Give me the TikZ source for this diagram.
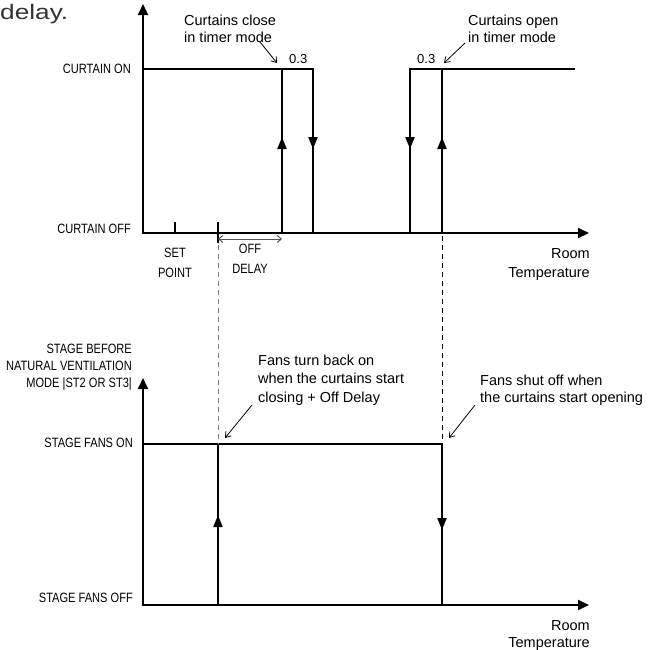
\documentclass[tikz,border=0pt]{standalone}
\usepackage{fontspec}
\setmainfont{Liberation Sans}
\newfontfamily\capsf[FakeStretch=0.82]{Liberation Sans}
\newfontfamily\bigf[FakeStretch=1.25]{Liberation Sans}
\usetikzlibrary{arrows.meta}
\definecolor{guidegray}{HTML}{808080}
\definecolor{delaygray}{HTML}{555555}
\definecolor{headgray}{HTML}{333333}
\tikzset{
 lab/.style={inner sep=0pt, font=\fontsize{14.5}{18}\selectfont},
 num/.style={inner sep=0pt, font=\fontsize{13}{16}\selectfont},
 caps/.style={inner sep=0pt, font=\capsf\fontsize{13.5}{16}\selectfont},
 axes/.style={line width=2pt, {Triangle[length=11pt,width=10pt]}-{Triangle[length=11pt,width=10pt]}},
 sig/.style={line width=2pt},
 midtip/.style={line width=2pt, -{Triangle[length=12pt,width=9pt]}},
 tick/.style={line width=2pt},
 note/.style={line width=0.8pt, -{Straight Barb[length=5pt,width=7pt]}},
 guide/.style={line width=1pt, dash pattern=on 5pt off 4pt},
}
\begin{document}
\begin{tikzpicture}[x=1pt,y=-1pt]
\useasboundingbox (0,0) rectangle (651,649);

% ---------- top chart ----------
\coordinate (y1) at (143,4);
\coordinate (o1) at (143,233);
\coordinate (x1) at (589,233);
\coordinate (on1) at (143,69);
\coordinate (a) at (282,233);  \coordinate (aT) at (282,69);  \coordinate (aM) at (282,137);
\coordinate (b) at (313,69);   \coordinate (bB) at (313,233); \coordinate (bM) at (313,149);
\coordinate (c) at (410,69);   \coordinate (cB) at (410,233); \coordinate (cM) at (410,149);
\coordinate (d) at (442,233);  \coordinate (dT) at (442,69);  \coordinate (dM) at (442,137);
\coordinate (e) at (575,69);
\coordinate (sp) at (175,222); \coordinate (spB) at (175,233);
\coordinate (od) at (218,222); \coordinate (odB) at (218,243);
\coordinate (odL) at (218,239); \coordinate (odR) at (282,239);
\coordinate (gl1) at (218,245); \coordinate (gr1) at (442,236);

\draw[axes] (y1) -- (o1) -- (x1);
\draw[sig] (on1) -- (b) -- (bB);
\draw[midtip] (b) -- (bM);
\draw[sig] (a) -- (aT);
\draw[midtip] (a) -- (aM);
\draw[sig] (cB) -- (c) -- (e);
\draw[midtip] (c) -- (cM);
\draw[sig] (d) -- (dT);
\draw[midtip] (d) -- (dM);
\draw[tick] (sp) -- (spB);
\draw[tick] (od) -- (odB);
\draw[delaygray, line width=1pt, {Straight Barb[length=4pt,width=7pt]}-{Straight Barb[length=4pt,width=7pt]}] (odL) -- (odR);

% ---------- bottom chart ----------
\coordinate (y2) at (143,378);
\coordinate (o2) at (143,605);
\coordinate (x2) at (589,605);
\coordinate (on2) at (143,444);
\coordinate (f) at (218,605);  \coordinate (fT) at (218,444); \coordinate (fM) at (218,515);
\coordinate (g) at (442,444);  \coordinate (gB) at (442,605); \coordinate (gM) at (442,530);

\draw[axes] (y2) -- (o2) -- (x2);
\draw[sig] (on2) -- (g) -- (gB);
\draw[midtip] (g) -- (gM);
\draw[sig] (f) -- (fT);
\draw[midtip] (f) -- (fM);

% guides
\draw[guide, guidegray] (gl1) -- (fT);
\draw[guide, black] (gr1) -- (g);

% ---------- labels ----------
\node[inner sep=0pt, anchor=base west, text=headgray, font=\bigf\fontsize{21}{24}\selectfont] (hd) at (0,19) {delay.};

\node[caps, anchor=base east] (lcon) at (131,73) {CURTAIN ON};
\node[caps, anchor=base east] (lcoff) at (131,233) {CURTAIN OFF};
\node[caps, anchor=base] (lset) at (175,257) {SET};
\node[caps, anchor=base] (lpoint) at (175,277) {POINT};
\node[caps, anchor=base] (loff) at (250,253) {OFF};
\node[caps, anchor=base] (ldelay) at (250,273) {DELAY};
\node[caps, anchor=base east] (ls1) at (132,353) {STAGE BEFORE};
\node[caps, anchor=base east] (ls2) at (132,370) {NATURAL VENTILATION};
\node[caps, anchor=base east] (ls3) at (132,387) {MODE |ST2 OR ST3|};
\node[caps, anchor=base east] (lfon) at (133,447) {STAGE FANS ON};
\node[caps, anchor=base east] (lfoff) at (133,602) {STAGE FANS OFF};

\node[lab, anchor=base west] (cc1) at (184,25) {Curtains close};
\node[lab, anchor=base west] (cc2) at (184,42) {in timer mode};
\node[lab, anchor=base west] (co1) at (468,25) {Curtains open};
\node[lab, anchor=base west] (co2) at (468,42) {in timer mode};
\node[num, anchor=base west] (n1) at (289,63) {0.3};
\node[num, anchor=base west] (n2) at (417,63) {0.3};
\node[lab, anchor=base east] (rt1) at (590,258) {Room};
\node[lab, anchor=base east] (rt2) at (590,277) {Temperature};
\node[lab, anchor=base west] (fb1) at (258,365) {Fans turn back on};
\node[lab, anchor=base west] (fb2) at (258,383) {when the curtains start};
\node[lab, anchor=base west] (fb3) at (258,402) {closing + Off Delay};
\node[lab, anchor=base west] (fs1) at (480,385) {Fans shut off when};
\node[lab, anchor=base west] (fs2) at (480,402) {the curtains start opening};
\node[lab, anchor=base east] (rb1) at (590,630) {Room};
\node[lab, anchor=base east] (rb2) at (590,647) {Temperature};

% annotation arrows
\coordinate (p1s) at (260,42); \coordinate (p1e) at (277,63);
\coordinate (p2s) at (465,43); \coordinate (p2e) at (444,63);
\coordinate (p3s) at (252,405); \coordinate (p3e) at (225,438);
\coordinate (p4s) at (475,405); \coordinate (p4e) at (449,438);
\draw[note] (p1s) -- (p1e);
\draw[note] (p2s) -- (p2e);
\draw[note] (p3s) -- (p3e);
\draw[note] (p4s) -- (p4e);
\end{tikzpicture}
\end{document}
